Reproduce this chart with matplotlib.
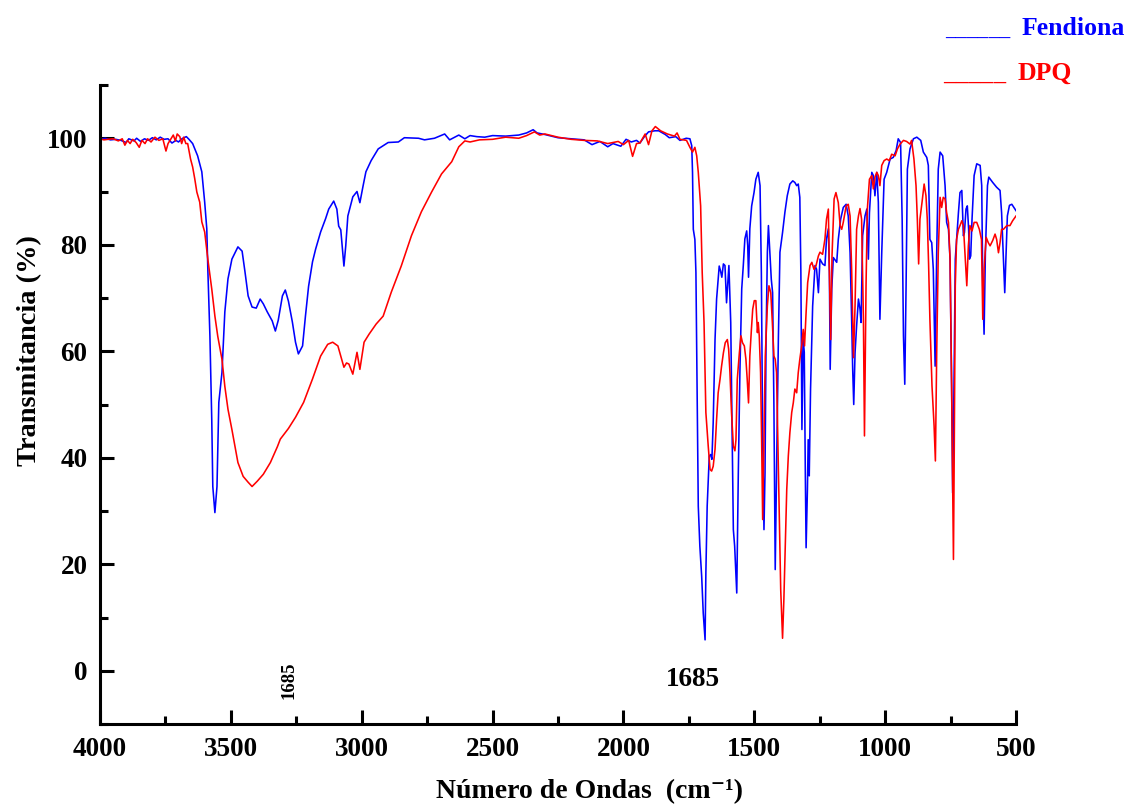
import matplotlib
matplotlib.use("Agg")
import matplotlib.pyplot as plt
from matplotlib.ticker import MultipleLocator

# ---------------- data ----------------
fendiona_wn = [
    4000, 3980, 3960, 3940, 3920, 3900, 3890, 3870, 3860, 3845, 3830, 3815, 3800, 3785, 3770,
    3755, 3740, 3725, 3710, 3700, 3690, 3680, 3670, 3660, 3646, 3627, 3611, 3600, 3592, 3588,
    3580, 3573, 3569, 3561, 3553, 3546, 3534, 3523, 3511, 3496, 3473, 3457, 3446, 3434, 3419,
    3403, 3388, 3376, 3361, 3342, 3330, 3319, 3303, 3292, 3280, 3265, 3253, 3242, 3226, 3215,
    3203, 3188, 3176, 3157, 3138, 3126, 3107, 3095, 3088, 3080, 3068, 3061, 3053, 3034, 3018,
    3007, 2995, 2984, 2964, 2937, 2899, 2860, 2837, 2783, 2760, 2722, 2683, 2664, 2629, 2606,
    2586, 2560, 2530, 2500, 2450, 2400, 2370, 2345, 2330, 2300, 2250, 2200, 2150, 2120, 2090,
    2060, 2040, 2010, 1990, 1970, 1950, 1937, 1920, 1904, 1880, 1865, 1840, 1825, 1800, 1784,
    1760, 1746, 1739, 1736, 1733, 1727, 1723, 1718, 1714, 1708, 1701, 1695, 1688, 1685, 1680,
    1672, 1667, 1662, 1657, 1650, 1644, 1634, 1629, 1624, 1618, 1612, 1606, 1597, 1590, 1585,
    1580, 1575, 1567, 1561, 1555, 1548, 1542, 1536, 1529, 1525, 1522, 1517, 1510, 1501, 1494,
    1485, 1478, 1473, 1468, 1463, 1459, 1455, 1450, 1446, 1440, 1435, 1430, 1425, 1420, 1415,
    1408, 1402, 1392, 1383, 1374, 1364, 1353, 1345, 1338, 1332, 1326, 1322, 1318, 1313, 1309,
    1305, 1302, 1297, 1294, 1290, 1285, 1277, 1268, 1262, 1255, 1249, 1239, 1230, 1224, 1217,
    1213, 1210, 1204, 1198, 1185, 1179, 1170, 1160, 1149, 1141, 1134, 1128, 1124, 1120, 1115,
    1109, 1102, 1096, 1092, 1086, 1077, 1070, 1064, 1060, 1051, 1045, 1039, 1032, 1026, 1020,
    1013, 1004, 994, 981, 969, 958, 950, 941, 935, 930, 925, 920, 915, 905, 892,
    879, 864, 854, 841, 835, 829, 822, 816, 809, 803, 797, 790, 780, 771, 765,
    758, 752, 746, 742, 737, 732, 727, 720, 714, 707, 701, 697, 691, 686, 681,
    678, 673, 668, 660, 650, 637, 631, 627, 622, 617, 609, 604, 589, 574, 561,
    555, 548, 543, 538, 533, 525, 516, 508, 500,
]
fendiona_t = [
    99.8, 100.0, 99.7, 99.8, 99.6, 99.2, 99.9, 99.5, 100.0, 99.4, 99.9, 99.6, 100.1, 99.7, 100.2,
    99.8, 99.9, 99.1, 99.6, 99.3, 99.8, 100.1, 100.3, 99.8, 99.0, 96.7, 93.7, 88.0, 83.0, 75.4,
    62.8, 47.2, 34.6, 29.7, 34.6, 50.4, 56.0, 67.4, 73.6, 77.3, 79.6, 78.8, 74.9, 70.4, 68.3,
    68.1, 69.8, 68.9, 67.4, 65.7, 63.8, 65.8, 70.4, 71.5, 69.4, 65.5, 61.7, 59.5, 61.0, 66.6,
    72.2, 76.8, 79.2, 82.4, 84.9, 86.7, 88.2, 86.7, 83.5, 82.8, 76.0, 79.8, 85.4, 89.0, 90.0,
    87.9, 91.0, 93.7, 95.8, 98.0, 99.2, 99.3, 100.1, 100.0, 99.7, 100.0, 100.8, 99.7, 100.6, 99.9,
    100.5, 100.3, 100.2, 100.5, 100.4, 100.6, 101.0, 101.6, 101.0, 100.7, 100.1, 99.9, 99.7, 98.8, 99.4,
    98.4, 99.0, 98.5, 99.8, 99.3, 99.6, 99.1, 100.3, 101.2, 101.4, 101.4, 100.7, 100.1, 100.3, 99.6,
    100.0, 99.9, 98.6, 93.6, 82.9, 81.0, 74.8, 49.7, 30.9, 23.4, 17.7, 10.8, 5.8, 18.4, 30.9,
    40.3, 40.6, 39.7, 46.6, 62.2, 69.8, 76.0, 75.1, 73.9, 76.4, 76.1, 69.1, 76.1, 65.4, 46.6,
    26.5, 23.4, 14.6, 37.2, 56.0, 71.7, 76.1, 81.1, 82.6, 79.8, 73.9, 83.0, 87.3, 89.8, 92.3,
    93.6, 91.1, 74.8, 43.4, 26.5, 37.2, 62.2, 78.6, 83.6, 77.9, 73.5, 71.0, 49.7, 19.0, 37.2,
    62.2, 78.6, 82.3, 86.1, 89.2, 91.4, 92.0, 91.7, 91.1, 91.4, 88.9, 74.8, 45.3, 62.2, 59.8,
    37.2, 23.1, 34.0, 43.4, 36.6, 52.9, 68.5, 76.1, 75.4, 71.0, 77.3, 76.4, 76.1, 81.1, 83.0,
    74.8, 56.6, 71.7, 77.6, 76.7, 81.0, 84.8, 87.0, 87.6, 85.4, 78.5, 66.0, 56.6, 50.0, 59.7,
    64.8, 69.8, 67.9, 65.4, 81.7, 85.4, 86.7, 77.3, 86.0, 93.6, 93.0, 89.2, 93.6, 88.0, 66.0,
    78.5, 92.3, 93.6, 96.1, 96.4, 97.7, 99.9, 99.2, 84.8, 62.9, 53.8, 72.3, 94.2, 98.0, 99.9,
    100.2, 99.6, 97.4, 96.4, 94.9, 81.0, 80.4, 75.4, 57.2, 78.5, 94.2, 97.4, 96.7, 91.1, 84.2,
    82.9, 77.3, 53.5, 33.4, 53.5, 77.3, 81.0, 86.0, 89.8, 90.2, 81.7, 82.3, 86.7, 87.3, 82.9,
    77.3, 77.9, 84.8, 93.0, 95.2, 94.9, 91.1, 72.3, 63.2, 78.5, 91.1, 92.7, 91.7, 90.8, 90.2,
    86.0, 77.3, 71.0, 78.5, 85.4, 87.4, 87.6, 87.0, 86.4,
]

dpq_wn = [
    4000, 3985, 3970, 3950, 3930, 3915, 3905, 3895, 3885, 3875, 3862, 3850, 3840, 3828, 3818,
    3805, 3790, 3775, 3760, 3748, 3740, 3730, 3720, 3712, 3705, 3695, 3688, 3680, 3672, 3665,
    3654, 3646, 3638, 3630, 3619, 3611, 3600, 3588, 3573, 3561, 3550, 3534, 3523, 3511, 3496,
    3484, 3473, 3453, 3434, 3419, 3399, 3376, 3349, 3322, 3311, 3280, 3253, 3222, 3188, 3157,
    3130, 3111, 3091, 3080, 3068, 3058, 3049, 3034, 3018, 3007, 2991, 2972, 2945, 2918, 2887,
    2849, 2810, 2772, 2733, 2695, 2656, 2629, 2606, 2586, 2550, 2500, 2450, 2400, 2370, 2340,
    2320, 2300, 2250, 2200, 2150, 2100, 2060, 2020, 2000, 1980, 1965, 1950, 1937, 1917, 1904,
    1891, 1878, 1858, 1832, 1805, 1795, 1784, 1759, 1746, 1736, 1727, 1720, 1714, 1705, 1699,
    1692, 1685, 1676, 1669, 1663, 1657, 1650, 1644, 1638, 1631, 1625, 1618, 1611, 1603, 1598,
    1593, 1587, 1580, 1574, 1570, 1565, 1557, 1551, 1545, 1538, 1532, 1527, 1522, 1517, 1511,
    1506, 1500, 1494, 1488, 1485, 1481, 1476, 1472, 1468, 1463, 1458, 1450, 1444, 1437, 1431,
    1425, 1420, 1415, 1410, 1404, 1399, 1392, 1387, 1381, 1376, 1370, 1364, 1357, 1351, 1345,
    1338, 1332, 1326, 1319, 1313, 1308, 1302, 1296, 1287, 1280, 1272, 1264, 1255, 1249, 1239,
    1230, 1224, 1217, 1213, 1208, 1203, 1195, 1188, 1179, 1172, 1166, 1160, 1149, 1141, 1134,
    1128, 1121, 1115, 1109, 1102, 1096, 1090, 1083, 1079, 1073, 1068, 1060, 1051, 1045, 1039,
    1032, 1026, 1020, 1013, 1004, 994, 984, 975, 962, 953, 943, 930, 918, 905, 899,
    890, 882, 877, 872, 867, 859, 851, 844, 839, 834, 829, 821, 813, 808, 803,
    797, 790, 784, 778, 771, 765, 758, 752, 746, 739, 736, 732, 727, 720, 714,
    707, 701, 695, 688, 682, 676, 668, 660, 650, 640, 632, 627, 622, 614, 606,
    599, 589, 580, 574, 567, 561, 555, 548, 535, 523, 513, 504, 500,
]
dpq_t = [
    99.9, 99.7, 99.8, 99.9, 99.5, 99.9, 98.7, 99.6, 99.0, 99.8, 99.2, 98.3, 99.6, 99.0, 99.9,
    99.3, 100.2, 99.6, 99.9, 97.6, 99.0, 99.8, 100.6, 99.5, 100.8, 100.3, 99.0, 100.2, 99.0, 99.0,
    96.1, 94.6, 92.4, 89.9, 88.0, 84.3, 82.4, 77.3, 71.7, 66.6, 62.8, 58.5, 53.4, 49.1, 45.3,
    42.1, 39.1, 36.5, 35.4, 34.6, 35.6, 36.9, 39.1, 42.1, 43.5, 45.5, 47.6, 50.4, 54.8, 59.1,
    61.3, 61.7, 61.0, 59.1, 57.0, 57.8, 57.6, 55.7, 59.8, 56.6, 61.7, 63.2, 65.1, 66.6, 71.1,
    76.0, 81.7, 86.2, 89.9, 93.3, 95.6, 98.4, 99.5, 99.3, 99.7, 99.8, 100.2, 100.0, 100.5, 101.2,
    100.6, 100.8, 100.2, 99.8, 99.6, 99.5, 99.0, 99.4, 98.8, 99.6, 96.6, 99.0, 99.1, 100.8, 98.8,
    101.4, 102.2, 101.4, 100.8, 100.4, 101.0, 99.8, 99.6, 98.3, 97.4, 98.3, 96.7, 93.6, 87.3, 74.8,
    65.4, 48.5, 42.2, 37.8, 37.5, 38.4, 41.6, 47.2, 52.2, 54.7, 57.2, 59.7, 61.6, 62.2, 60.4,
    56.0, 48.5, 42.2, 41.3, 43.4, 54.7, 59.7, 62.9, 61.6, 61.0, 58.5, 54.7, 50.3, 59.1, 64.1,
    67.9, 69.5, 69.5, 63.5, 65.4, 62.9, 56.0, 43.4, 28.4, 43.4, 59.1, 68.5, 72.3, 71.0, 65.4,
    59.1, 58.5, 56.0, 43.4, 27.8, 15.2, 6.1, 13.3, 24.6, 34.0, 40.3, 44.7, 48.5, 50.3, 52.9,
    52.2, 56.0, 58.5, 61.0, 64.1, 61.0, 67.3, 72.9, 76.1, 76.7, 75.4, 76.1, 77.9, 78.6, 78.2,
    81.1, 84.8, 86.7, 74.8, 62.2, 77.9, 88.6, 89.8, 87.9, 83.6, 82.9, 84.2, 87.3, 87.6, 85.4,
    75.4, 58.8, 68.5, 82.9, 85.4, 86.8, 84.8, 66.0, 44.1, 72.3, 86.7, 92.3, 93.0, 90.5, 92.7,
    93.6, 93.0, 91.1, 94.9, 95.8, 96.1, 95.8, 97.0, 96.7, 98.0, 98.9, 99.6, 99.4, 98.9, 99.6,
    96.1, 91.1, 84.8, 76.4, 84.8, 88.0, 91.4, 89.2, 84.8, 76.4, 66.0, 53.5, 46.0, 39.4, 59.7,
    78.5, 88.9, 87.0, 88.9, 88.6, 86.0, 84.2, 77.3, 53.5, 20.9, 40.9, 72.3, 81.0, 82.9, 83.6,
    84.5, 83.6, 78.5, 72.3, 79.8, 83.6, 82.6, 84.2, 84.2, 82.9, 81.0, 66.0, 75.4, 81.4, 80.4,
    79.8, 80.8, 82.0, 81.0, 78.5, 80.4, 82.9, 82.9, 83.6, 83.6, 84.5, 85.1, 85.4,
]

series_names = ["Fendiona", "DPQ"]
x_ticks = [4000, 3500, 3000, 2500, 2000, 1500, 1000, 500]
y_ticks = [0, 20, 40, 60, 80, 100]
annot_text = "1685"

# ---------------- figure ----------------
serif = ["Liberation Serif", "DejaVu Serif"]
plt.rcParams["font.family"] = serif
plt.rcParams["font.weight"] = "bold"

W, H = 1132, 807
fig = plt.figure(figsize=(W / 100, H / 100), dpi=100)
ax = fig.add_axes([100 / W, 1 - 724 / H, (1016 - 100) / W, (724 - 85) / H])

ax.plot(fendiona_wn, fendiona_t, color="#0000ff", lw=1.15)
ax.plot(dpq_wn, dpq_t, color="#ff0000", lw=1.15)

ax.set_xlim(4000, 500)
ax.set_ylim(-10, 110)
ax.set_xticks(x_ticks)
ax.set_yticks(y_ticks)
ax.xaxis.set_minor_locator(MultipleLocator(250))
ax.yaxis.set_minor_locator(MultipleLocator(10))

for s in ["top", "right"]:
    ax.spines[s].set_visible(False)
for s in ["left", "bottom"]:
    ax.spines[s].set_linewidth(2.2)

ax.tick_params(which="major", direction="in", length=10, width=2.2,
               labelsize=19.5, pad=9)
ax.tick_params(which="minor", direction="in", length=5.5, width=2.2)
for lab in ax.get_xticklabels() + ax.get_yticklabels():
    lab.set_fontweight("bold")

# annotations
ax.text(3276, -1.7, annot_text, rotation=90, fontsize=13.5, fontweight="bold",
        ha="center", va="center")
ax.text(1734, -1.7, annot_text, fontsize=19.5, fontweight="bold",
        ha="center", va="center")

# axis labels
fig.text(589 / W, 1 - 792 / H, "Número de Ondas  (cm⁻¹)", fontsize=20,
         fontweight="bold", ha="center", va="center")
fig.text(30 / W, 1 - 351 / H, "Transmitancia (%)", fontsize=20.5,
         fontweight="bold", ha="center", va="center", rotation=90)

# text legend
fig.text(945 / W, 1 - 36 / H, "______", color="#0000ff", fontsize=15.5,
         fontweight="bold", va="baseline", ha="left")
fig.text(1022 / W, 1 - 35 / H, series_names[0], color="#0000ff", fontsize=18.5,
         fontweight="bold", va="baseline", ha="left")
fig.text(943 / W, 1 - 80 / H, "_____", color="#ff0000", fontsize=18,
         fontweight="bold", va="baseline", ha="left")
fig.text(1018 / W, 1 - 80 / H, series_names[1], color="#ff0000", fontsize=18.5,
         fontweight="bold", va="baseline", ha="left")

fig.savefig("out.png", dpi=100)
